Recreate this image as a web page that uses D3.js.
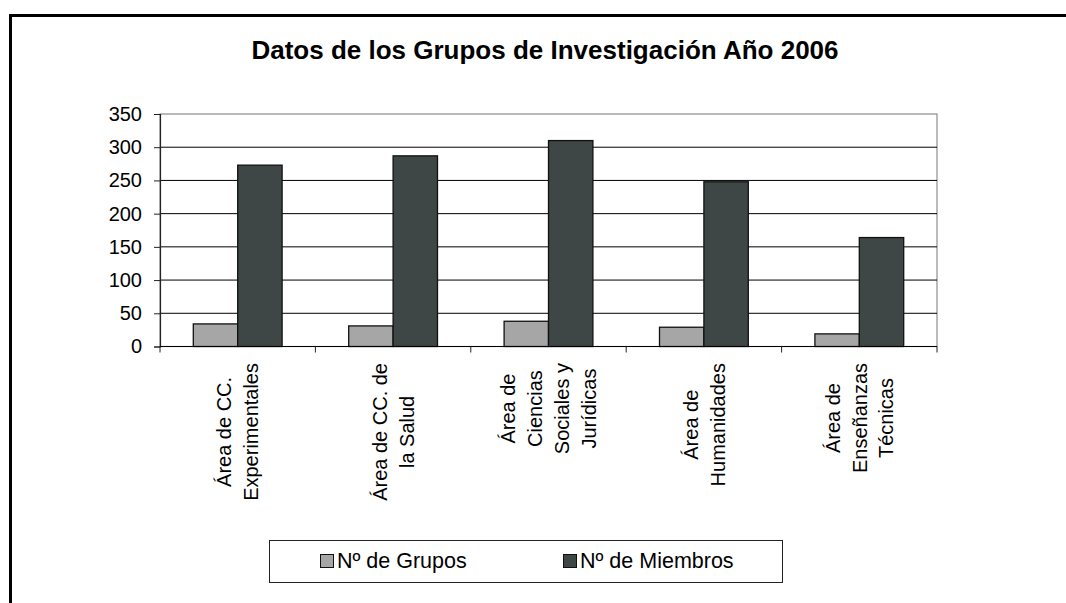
<!DOCTYPE html>
<html>
<head>
<meta charset="utf-8">
<script src="https://cdn.jsdelivr.net/npm/d3@7/dist/d3.min.js"></script>
<style>
  html, body { margin: 0; padding: 0; background: #fff; }
  svg { display: block; }
  text { font-family: Arial, "Liberation Sans", sans-serif; fill: #000; }
</style>
</head>
<body>
<svg id="chart" width="1066" height="603"></svg>
<script>
// Research groups by area, year 2006
const categories = [
  ["Área de CC.", "Experimentales"],
  ["Área de CC. de", "la Salud"],
  ["Área de", "Ciencias", "Sociales y", "Jurídicas"],
  ["Área de", "Humanidades"],
  ["Área de", "Enseñanzas", "Técnicas"]
];
const seriesNames = ["Nº de Grupos", "Nº de Miembros"];
const grupos = [34, 31, 38, 29, 19];
const miembros = [273, 287, 310, 248, 164];
const yTicks = [0, 50, 100, 150, 200, 250, 300, 350];
const titleText = "Datos de los Grupos de Investigación Año 2006";

const colors = ["#a6a6a6", "#3e4745"];
const values = [grupos, miembros];

const svg = d3.select("#chart");
const plot = { left: 160, right: 937, top: 114, bottom: 346.5 };
const fs = 20;

// outer chart frame
svg.append("rect")
  .attr("x", 10.5).attr("y", 15.5)
  .attr("width", 1200).attr("height", 800)
  .attr("fill", "#fff").attr("stroke", "#000").attr("stroke-width", 3);

// title
svg.append("text")
  .attr("x", 545).attr("y", 59)
  .attr("text-anchor", "middle")
  .attr("font-size", 26).attr("font-weight", "bold")
  .text(titleText);

const x0 = d3.scaleBand()
  .domain(d3.range(categories.length))
  .range([plot.left, plot.right])
  .paddingInner(0).paddingOuter(0);

const y = d3.scaleLinear().domain([0, 350]).range([plot.bottom, plot.top]);

// plot area border
svg.append("rect")
  .attr("x", plot.left).attr("y", plot.top)
  .attr("width", plot.right - plot.left).attr("height", plot.bottom - plot.top)
  .attr("fill", "#fff").attr("stroke", "#8c8c8c").attr("stroke-width", 1.2);

// gridlines
svg.append("g")
  .selectAll("line")
  .data(yTicks.filter(t => t > 0 && t < 350))
  .join("line")
  .attr("x1", plot.left).attr("x2", plot.right)
  .attr("y1", d => y(d)).attr("y2", d => y(d))
  .attr("stroke", "#000").attr("stroke-width", 1);

// bars
const bw = x0.bandwidth();
const barW = bw / 3.5;
const x1 = d3.scaleBand().domain(d3.range(seriesNames.length)).range([0, 2 * barW]).padding(0);

const groups = svg.append("g")
  .selectAll("g")
  .data(categories.map((c, i) => i))
  .join("g")
  .attr("transform", i => `translate(${x0(i) + barW * 0.75},0)`);

groups.selectAll("rect")
  .data(i => values.map((v, s) => ({ s, v: v[i] })))
  .join("rect")
  .attr("x", d => x1(d.s))
  .attr("width", x1.bandwidth())
  .attr("y", d => y(d.v))
  .attr("height", d => y(0) - y(d.v))
  .attr("fill", d => colors[d.s])
  .attr("stroke", "#111").attr("stroke-width", 1.3);

// y axis
const yAxis = svg.append("g")
  .attr("transform", `translate(${plot.left},0)`)
  .call(d3.axisLeft(y).tickValues(yTicks).tickSize(6).tickPadding(12));
yAxis.select(".domain").attr("stroke", "#222").attr("stroke-width", 1.2);
yAxis.selectAll(".tick line").attr("stroke", "#222");
yAxis.selectAll(".tick text")
  .attr("font-size", fs)
  .attr("font-family", "Arial, 'Liberation Sans', sans-serif")
  .attr("fill", "#000");

// x axis (ticks at category boundaries)
const bounds = d3.range(categories.length + 1).map(i => plot.left + i * bw);
svg.append("line")
  .attr("x1", plot.left).attr("x2", plot.right)
  .attr("y1", plot.bottom).attr("y2", plot.bottom)
  .attr("stroke", "#000").attr("stroke-width", 1.2);
svg.append("g").selectAll("line")
  .data(bounds)
  .join("line")
  .attr("x1", d => d).attr("x2", d => d)
  .attr("y1", plot.bottom).attr("y2", plot.bottom + 6)
  .attr("stroke", "#222");

// rotated category labels
const lineGap = 27;
const labelTop = 363;
categories.forEach((lines, i) => {
  const cx = x0(i) + bw / 2;
  const g = svg.append("g").attr("transform", `translate(${cx},${labelTop}) rotate(-90)`);
  const t = g.selectAll("text")
    .data(lines)
    .join("text")
    .attr("font-size", fs)
    .attr("text-anchor", "middle")
    .attr("y", (d, k) => (k - (lines.length - 1) / 2) * lineGap + 0.36 * fs)
    .text(d => d);
  const maxW = d3.max(t.nodes(), n => n.getComputedTextLength());
  t.attr("x", -maxW / 2);
});

// legend
const legend = svg.append("g");
legend.append("rect")
  .attr("x", 269.5).attr("y", 540.5)
  .attr("width", 513).attr("height", 42)
  .attr("fill", "#fff").attr("stroke", "#222").attr("stroke-width", 1);
const legendX = [320, 563];
seriesNames.forEach((name, s) => {
  legend.append("rect")
    .attr("x", legendX[s] + 0.5).attr("y", 554.5)
    .attr("width", 13).attr("height", 13)
    .attr("fill", colors[s]).attr("stroke", "#111").attr("stroke-width", 1);
  legend.append("text")
    .attr("x", legendX[s] + 17).attr("y", 568)
    .attr("font-size", 21.5)
    .text(name);
});
</script>
</body>
</html>
